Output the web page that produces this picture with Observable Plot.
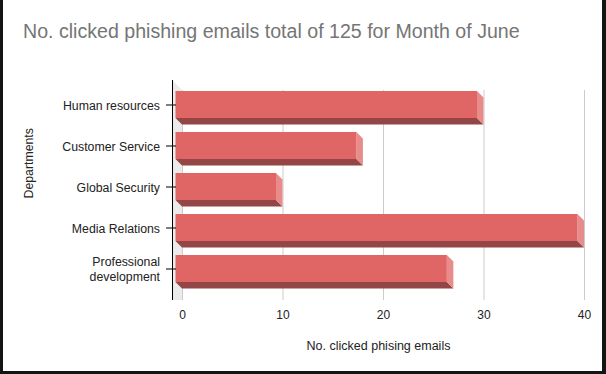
<!DOCTYPE html>
<html>
<head>
<meta charset="utf-8">
<script src="https://cdn.jsdelivr.net/npm/d3@7"></script>
<script src="https://cdn.jsdelivr.net/npm/@observablehq/plot@0.6"></script>
<style>
  html, body { margin: 0; padding: 0; background: #fff; }
  #wrap { position: relative; width: 606px; height: 374px; overflow: hidden; background: #fff; }
  #title { position: absolute; left: 23px; top: 21px; font: 19.6px "Liberation Sans", Arial, sans-serif; color: #757575; white-space: nowrap; line-height: 20px; }
  #border { position: absolute; left: 0; top: 0; width: 606px; height: 374px; box-sizing: border-box;
            border-left: 3px solid #141414; border-right: 4px solid #141414; border-bottom: 3px solid #141414; pointer-events: none; }
  #chart svg { display: block; }
</style>
</head>
<body>
<div id="wrap">
  <div id="chart"></div>
  <div id="title">No. clicked phishing emails total of 125 for Month of June</div>
  <div id="border"></div>
</div>
<script>
const departments = ["Human resources", "Customer Service", "Global Security", "Media Relations", "Professional development"];
const clicked = [30, 18, 10, 40, 27];
const tickLabels = ["Human resources", "Customer Service", "Global Security", "Media Relations", "Professional\ndevelopment"];
const xTicks = [0, 10, 20, 30, 40];
const xTitle = "No. clicked phising emails";
const yTitle = "Departments";

const data = departments.map((d, i) => ({dept: d, value: clicked[i]}));
const depth = 6.5;

function bw(s) { return typeof s.bandwidth === "function" ? s.bandwidth() : s.bandwidth; }

// back wall on the left
function wall(index, scales, values, dims) {
  const x = scales.x;
  const x0 = x(0);
  const top = dims.marginTop, bot = dims.height - dims.marginBottom;
  const g = d3.create("svg:g");
  g.append("polygon")
    .attr("points", [[x0 - 10, top - 10], [x0, top], [x0, bot], [x0 - 10, bot]].join(" "))
    .attr("fill", "#ebebeb");
  return g.node();
}

// bottom and side faces of the 3D bars
function faces(index, scales) {
  const x = scales.x, y = scales.y;
  const h = bw(y);
  const g = d3.create("svg:g");
  data.forEach(d => {
    const x0 = x(0) - depth, x1 = x(d.value) - depth;
    const y0 = y(d.dept), y1 = y0 + h;
    g.append("polygon")
      .attr("points", [[x0, y1], [x1, y1], [x1 + depth, y1 + depth], [x0 + depth, y1 + depth]].join(" "))
      .attr("fill", "#944545");
    g.append("polygon")
      .attr("points", [[x1, y0], [x1 + depth, y0 + depth], [x1 + depth, y1 + depth], [x1, y1]].join(" "))
      .attr("fill", "#e88b8b");
  });
  return g.node();
}

const chart = Plot.plot({
  width: 606,
  height: 374,
  marginLeft: 182,
  marginRight: 22,
  marginTop: 90,
  marginBottom: 74,
  style: {fontFamily: "'Liberation Sans', Arial, sans-serif", fontSize: "12px", background: "transparent", color: "#222"},
  x: {domain: [0, 40]},
  y: {domain: departments, range: [91, 282.8], paddingInner: 0.35, paddingOuter: 0, align: 0},
  marks: [
    wall,
    Plot.gridX(xTicks, {stroke: "#cccccc", strokeOpacity: 1}),
    Plot.ruleX([0], {dx: -10, insetTop: -10, stroke: "#000"}),
    faces,
    Plot.barX(data, {x: "value", y: "dept", fill: "#e06666", dx: -depth}),
    Plot.axisX(xTicks, {tickSize: 0, tickPadding: 10, label: null, fill: "#222", fontSize: 12}),
    Plot.axisY({tickSize: 10, tickPadding: 6.5, dx: -6, label: null, stroke: "#000",
                tickFormat: d => tickLabels[departments.indexOf(d)], lineHeight: 1.15, fill: "#222", fontSize: 12.3}),
    Plot.text([xTitle], {frameAnchor: "bottom", dy: 45, dx: -5, lineAnchor: "middle", fill: "#222", fontSize: 12.5}),
    Plot.text([yTitle], {frameAnchor: "left", dx: -153, dy: 3, rotate: -90, lineAnchor: "middle", fill: "#222", fontSize: 12.3})
  ]
});
document.getElementById("chart").appendChild(chart);
</script>
</body>
</html>
